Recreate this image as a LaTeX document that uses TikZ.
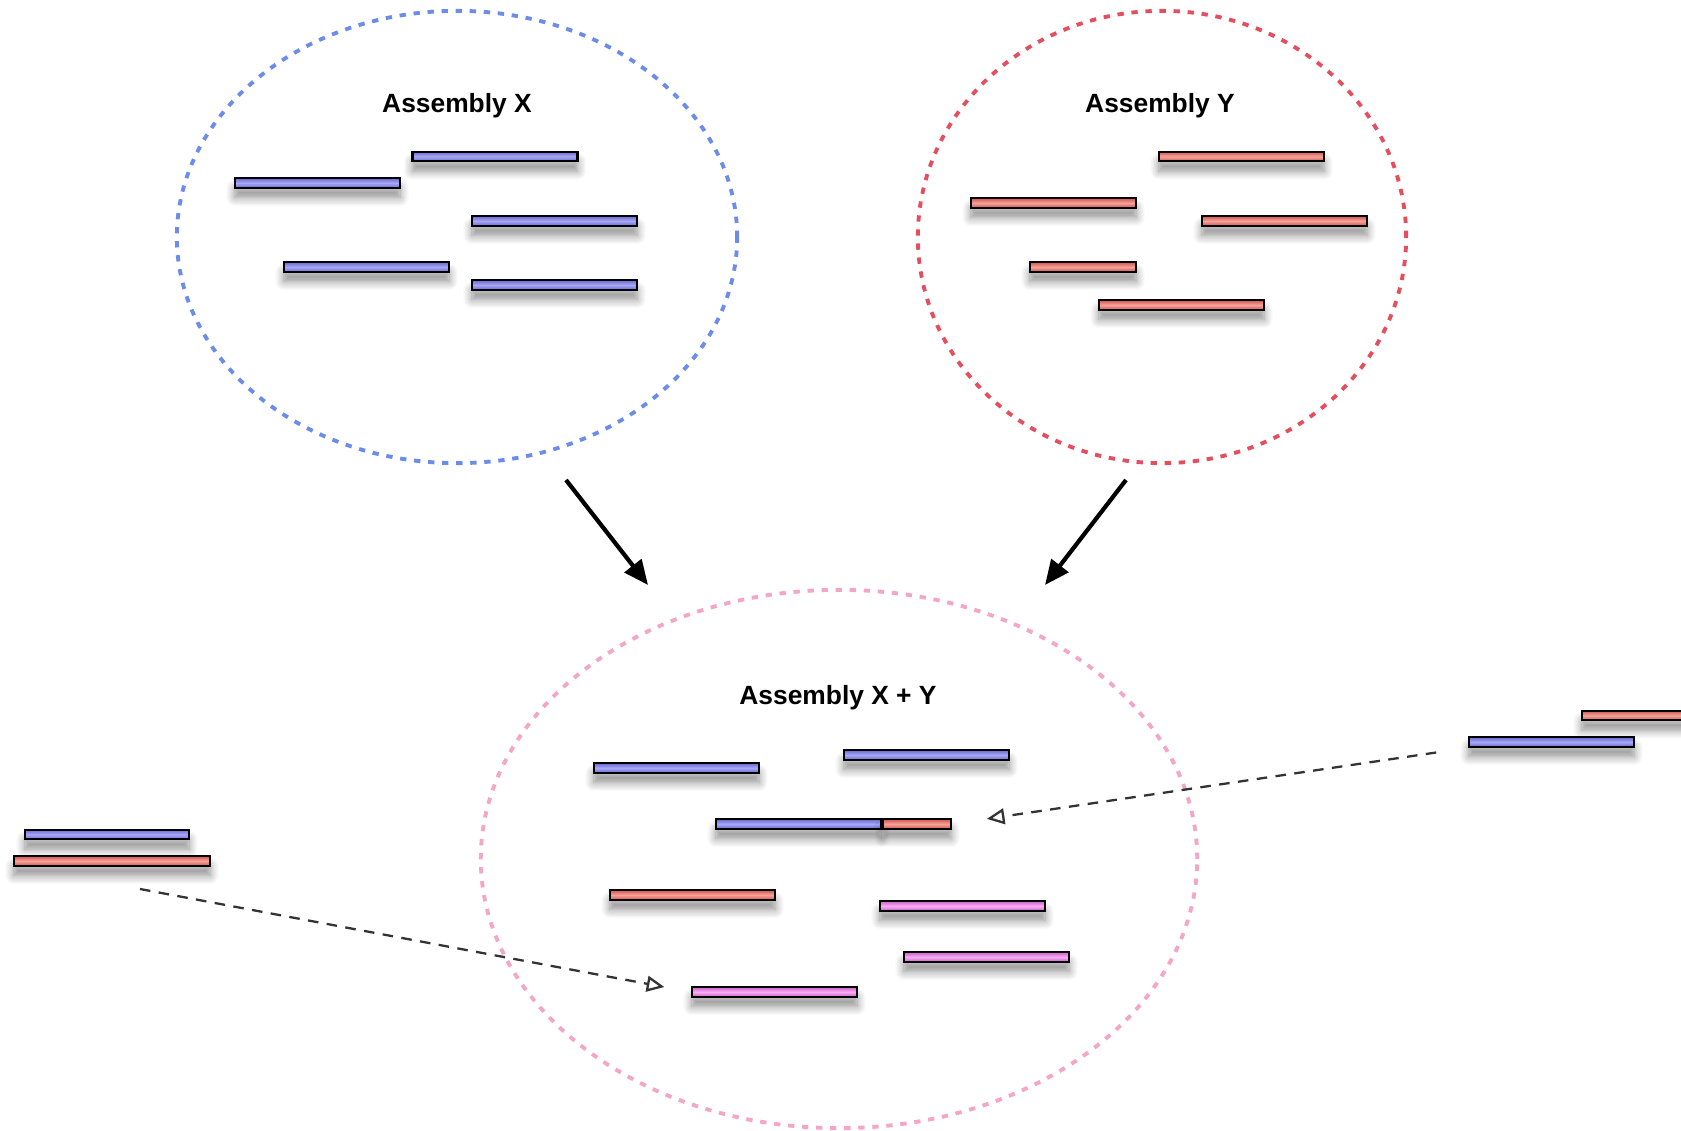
\documentclass[tikz,border=0pt]{standalone}
\usepackage{fontspec}
\setmainfont{Liberation Sans}
\usepackage{tikz}
\usetikzlibrary{arrows.meta,positioning,shapes,shadows,shadows.blur,calc}

\definecolor{bluedk}{HTML}{6A6AD2}
\definecolor{bluelt}{HTML}{A8A8F6}
\definecolor{reddk}{HTML}{D45650}
\definecolor{redlt}{HTML}{F4A39A}
\definecolor{pinkdk}{HTML}{D05ECC}
\definecolor{pinklt}{HTML}{F6AEF2}
\definecolor{poolx}{HTML}{6C8CEB}
\definecolor{pooly}{HTML}{E64E5E}
\definecolor{poolxy}{HTML}{F4A6C6}

\begin{document}
\begin{tikzpicture}[x=0.01cm,y=-0.01cm]
  \tikzset{
    frag/.style={draw=black, line width=0.6pt, inner sep=0pt,
      minimum width=1.65cm, minimum height=0.095cm,
      blur shadow={shadow xshift=0pt, shadow yshift=-2.8pt,
        shadow blur radius=2.5pt, shadow blur steps=8, shadow opacity=45}},
    fragx/.style={frag, top color=bluedk, bottom color=bluedk, middle color=bluelt},
    fragy/.style={frag, top color=reddk, bottom color=reddk, middle color=redlt},
    fragxy/.style={frag, top color=pinkdk, bottom color=pinkdk, middle color=pinklt},
    pool/.style={ellipse, inner sep=0pt, line width=1.1pt,
      dash pattern=on 1.8pt off 2.2pt},
    title/.style={font=\fontsize{7.5}{9}\selectfont\bfseries},
    merge/.style={line width=1.2pt, -{Triangle[length=7pt,width=6pt]}},
    hint/.style={line width=0.65pt, draw=black!80, dash pattern=on 3pt off 2.4pt,
      -{Triangle[open,length=5pt,width=4.5pt]}},
  }
  \useasboundingbox (0,0) rectangle (1681,1131);

  % the two assemblies
  \node[pool, draw=poolx, minimum width=5.6cm, minimum height=4.52cm] (poolX) at (457,237) {};
  \node[pool, draw=pooly, minimum width=4.88cm, minimum height=4.52cm] (poolY) at (1162,237) {};
  \node[title] (titleX) at (457,106) {Assembly X};
  \node[title] (titleY) at (1160,106) {Assembly Y};

  \node[fragx] (x1) at (495,156.5) {};
  \node[fragx] (x2) at (317.5,183) {};
  \node[fragx] (x3) at (554.5,221) {};
  \node[fragx] (x4) at (366.5,267) {};
  \node[fragx] (x5) at (554.5,285) {};

  \node[fragy] (y1) at (1241.5,156.5) {};
  \node[fragy] (y2) at (1053.5,203) {};
  \node[fragy] (y3) at (1284.5,221) {};
  \node[fragy, minimum width=1.06cm] (y4) at (1083,267) {};
  \node[fragy] (y5) at (1181.5,305) {};

  % merged assembly
  \node[pool, draw=poolxy, minimum width=7.16cm, minimum height=5.38cm] (poolXY) at (839,859) {};
  \node[title] (titleXY) at (838,698) {Assembly X + Y};

  \node[fragx] (c1) at (676.5,768) {};
  \node[fragx] (c2) at (926.5,755) {};
  \node[fragx] (c3) at (798.5,824) {};
  \node[fragy, minimum width=0.68cm, anchor=west] (c3r) at (c3.east) {};
  \node[fragy] (c4) at (692.5,895) {};
  \node[fragxy] (c5) at (962.5,906) {};
  \node[fragxy] (c6) at (986.5,957) {};
  \node[fragxy] (c7) at (774.5,992) {};

  % joined pairs outside
  \node[fragx, minimum width=1.64cm] (lB) at (107,834.5) {};
  \node[fragy, minimum width=1.96cm] (lR) at (112,861) {};
  \node[fragy] (rR) at (1664.5,715.5) {};
  \node[fragx] (rB) at (1551.5,742) {};

  \coordinate (mX) at (566,480);
  \coordinate (mY) at (1126,480);
  \coordinate (mXe) at (648,585);
  \coordinate (mYe) at (1045,585);
  \coordinate (jL) at (140,889);

  \draw[merge] (mX) -- (mXe);
  \draw[merge] (mY) -- (mYe);
  \draw[hint, shorten >=0.27cm] (jL) -- (c7.west);
  \draw[hint, shorten <=0.32cm, shorten >=0.35cm] (rB.south west) -- (c3r.east);
\end{tikzpicture}
\end{document}
